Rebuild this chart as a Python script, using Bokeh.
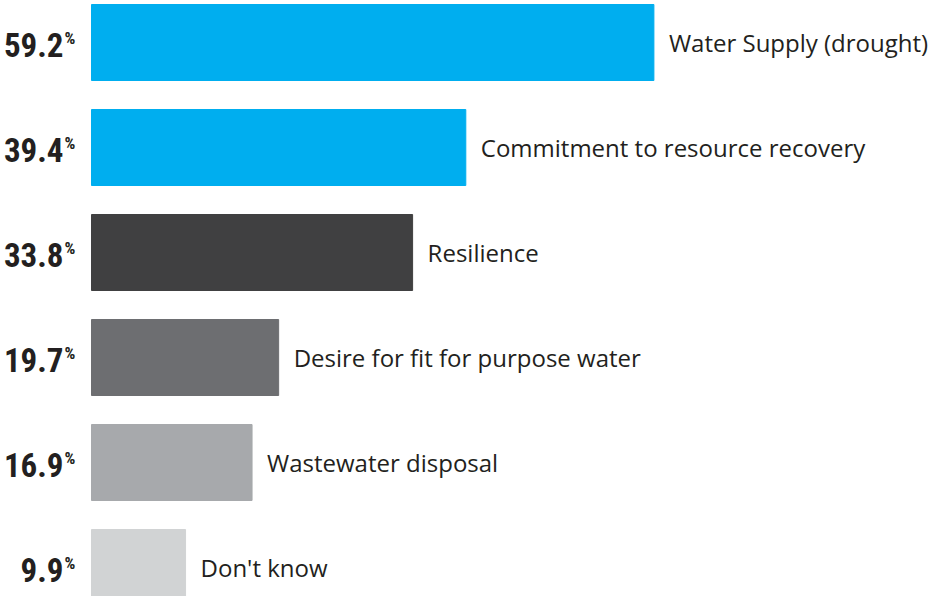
from bokeh.plotting import figure
from bokeh.models import ColumnDataSource, Range1d
from bokeh.core.properties import value
from bokeh.embed import file_html
from bokeh.resources import INLINE

categories = ["Water Supply (drought)", "Commitment to resource recovery", "Resilience",
              "Desire for fit for purpose water", "Wastewater disposal", "Don't know"]
values = [59.2, 39.4, 33.8, 19.7, 16.9, 9.9]
colors = ["#00AEEF", "#00AEEF", "#404041", "#6D6E71", "#A7A9AC", "#D1D3D4"]

W, H = 934, 596
PX_PER_UNIT_X = 9.5
PX_PER_ROW = 105.0
left_px = 91
top_px = 42

pos = list(range(len(values)))
src = ColumnDataSource(dict(
    y=pos, v=values, color=colors, cat=categories,
    num=[f"{v:.1f}" for v in values], pct=["%"] * len(values)))

p = figure(width=W, height=H, output_backend="svg", toolbar_location=None,
           x_range=Range1d(-left_px / PX_PER_UNIT_X, (W - left_px) / PX_PER_UNIT_X),
           y_range=Range1d(len(values) - 1 + (H - top_px - 5 * PX_PER_ROW) / PX_PER_ROW,
                           -top_px / PX_PER_ROW),
           min_border=0)
p.axis.visible = False
p.grid.visible = False
p.outline_line_color = None
p.background_fill_color = "white"

p.hbar(y="y", left=0, right="v", height=76 / PX_PER_ROW, color="color", source=src)

p.text(x="v", y="y", text="cat", source=src, x_offset=15,
       text_align="left", text_baseline="middle",
       text_font=value("Open Sans"), text_font_size="24px", text_color="#231F20")

num_font = value("Roboto Condensed, DejaVu Sans Condensed, sans-serif")
p.text(x=0, y="y", text="num", source=src, x_offset=-28, y_offset=2,
       text_align="right", text_baseline="middle",
       text_font=num_font, text_font_style="bold",
       text_font_size="33px", text_color="#231F20")

p.text(x=0, y="y", text="pct", source=src, x_offset=-27, y_offset=-15,
       text_align="left", text_baseline="top",
       text_font=num_font, text_font_style="bold",
       text_font_size="17px", text_color="#231F20")

open("out.html", "w").write(file_html(p, INLINE))
